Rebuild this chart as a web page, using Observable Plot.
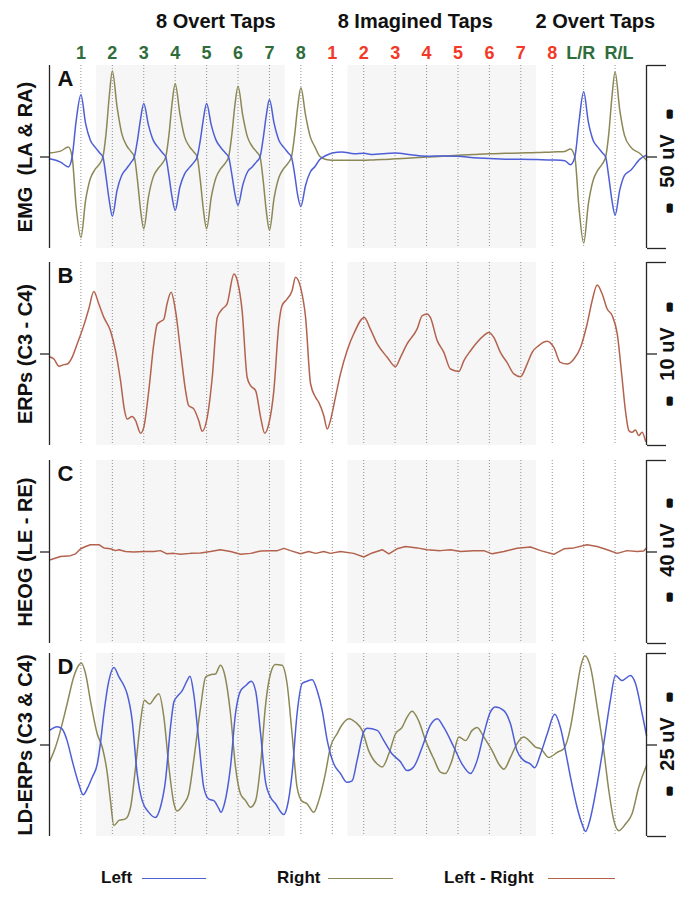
<!DOCTYPE html>
<html><head><meta charset="utf-8">
<script src="https://cdn.jsdelivr.net/npm/d3@7"></script>
<script src="https://cdn.jsdelivr.net/npm/@observablehq/plot@0.6"></script>
<style>
body{margin:0;background:#fff;font-family:"Liberation Sans",Arial,Helvetica,sans-serif;}
#chart{width:693px;height:900px;position:relative;overflow:hidden;}
#chart svg{display:block;}
.legend{position:relative;width:693px;height:57px;font-weight:bold;font-size:17px;color:#111;}
.legend span{position:absolute;top:25px;line-height:20px;white-space:nowrap;}
.legend i{position:absolute;top:35px;height:0;border-top:1.3px solid;}
</style></head><body><div id="chart"></div>
<script>
// ---- taps / categories ----
const tapIndex = [1,2,3,4,5,6,7,8,9,10,11,12,13,14,15,16,17,18];
const tapLabels = ["1","2","3","4","5","6","7","8","1","2","3","4","5","6","7","8","L/R","R/L"];
const tapKinds = ["overt","overt","overt","overt","overt","overt","overt","overt",
  "imagined","imagined","imagined","imagined","imagined","imagined","imagined","imagined","overt","overt"];
const groups = [
  {label: "8 Overt Taps", first: 1, last: 8},
  {label: "8 Imagined Taps", first: 9, last: 16},
  {label: "2 Overt Taps", first: 17, last: 18}
];
const shadedTaps = [{first: 2, last: 7}, {first: 10, last: 15}];

// ---- Panel A: EMG (uV), time in tap units ----
const emgT = [0,0.35,0.6,0.72,0.85,1,1.15,1.3,1.45,1.6,1.7,1.8,1.9,
  2,2.15,2.3,2.45,2.6,2.7,2.8,2.9,
  3,3.15,3.3,3.45,3.6,3.7,3.8,3.9,
  4,4.15,4.3,4.45,4.6,4.7,4.8,4.9,
  5,5.15,5.3,5.45,5.6,5.7,5.8,5.9,
  6,6.15,6.3,6.45,6.6,6.7,6.8,6.9,
  7,7.15,7.3,7.45,7.6,7.7,7.8,7.9,
  8,8.15,8.3,8.45,8.6,8.8,
  9,9.3,9.7,10,10.3,10.6,11,11.5,12,12.5,13,13.5,14,14.5,15,15.5,16,16.4,16.58,16.72,16.85,
  17,17.15,17.3,17.45,17.6,17.7,17.8,17.9,
  18,18.15,18.3,18.5,18.8,19];
const emgLeft = [-0.5,-1.4,-2.7,0,10.0,17.0,9.1,4.6,2.7,1.1,0,-5.5,-11.8,
  -16.2,-9.1,-5.0,-3.2,-1.4,0,4.6,10.5,
  14.6,8.7,4.6,2.7,1.1,0,-5.0,-10.9,
  -14.6,-8.2,-4.6,-2.9,-1.4,0,4.6,10.5,
  14.6,8.7,4.6,2.6,1.1,0,-4.6,-10.0,
  -13.2,-7.7,-4.1,-2.7,-1.2,0,5.0,11.4,
  15.7,9.1,4.6,2.7,1.1,0,-4.6,-10.5,
  -13.5,-7.7,-4.1,-2.6,-0.7,0.4,
  1.1,1.4,0.9,1.0,0.7,0.9,1.1,0.6,0.2,0.3,0.2,-0.2,-0.4,-0.6,-0.6,-0.7,-0.8,-1.0,-2.1,0,9.5,
  17.8,9.5,4.6,2.7,1.1,0,-5.5,-11.8,
  -15.9,-9.0,-5.0,-3.6,-0.5,0.5];
const emgRight = [1.1,1.6,2.7,0,-13.7,-22.0,-11.8,-5.9,-3.4,-1.8,0,6.4,16.4,
  23.5,13.7,6.4,3.2,1.4,0,-6.4,-14.6,
  -19.6,-10.9,-5.5,-3.2,-1.6,0,5.9,14.6,
  20.0,11.8,5.5,2.9,1.3,0,-6.4,-14.6,
  -19.6,-10.9,-5.6,-3.2,-1.6,0,5.9,14.1,
  19.3,11.4,5.5,2.9,1.3,0,-6.4,-14.8,
  -20.0,-11.1,-5.6,-3.2,-1.6,0,5.9,13.8,
  18.9,11.4,5.5,2.7,0.2,-0.7,
  -0.9,-0.9,-0.9,-0.9,-0.8,-0.7,-0.5,-0.3,0,0.2,0.5,0.7,0.9,1.0,1.1,1.2,1.4,1.5,2.2,0,-13.7,
  -23.5,-12.8,-6.4,-3.6,-1.8,0,6.4,16.4,
  23.2,12.8,5.9,2.7,0.9,-0.9];

// ---- Panel B: ERPs C3 - C4 (uV) ----
const erpT = [0,0.14,0.30,0.46,0.56,0.72,0.88,1.09,1.25,1.41,1.57,1.73,1.94,2.10,2.26,2.39,2.47,2.63,2.74,2.90,
  3.00,3.16,3.32,3.43,3.53,3.64,3.74,3.87,4.01,4.17,4.33,4.43,4.59,4.75,4.86,5.02,5.18,5.34,5.50,5.65,
  5.87,5.99,6.13,6.29,6.40,6.56,6.72,6.85,6.98,7.14,7.30,7.40,7.56,7.72,7.83,7.99,8.15,8.31,8.47,8.57,
  8.73,8.84,8.94,9.10,9.26,9.47,9.68,10.02,10.21,10.43,10.75,11.01,11.17,11.38,11.70,11.86,12.02,12.12,12.34,12.55,
  12.76,13.03,13.19,13.40,13.61,13.82,13.98,14.14,14.35,14.56,14.78,14.99,15.20,15.36,15.57,15.84,16.05,16.26,16.47,16.69,
  16.90,17.11,17.27,17.43,17.59,17.75,17.91,18.07,18.22,18.33,18.44,18.54,18.65,18.75,18.86,18.97];
const erpV = [-0.15,-0.27,-0.67,-0.58,-0.55,-0.18,0.55,1.55,2.46,3.41,2.73,2.0,1.27,0.18,-1.46,-3.10,-3.55,-3.42,-3.64,-4.33,
  -4.01,-2.0,0.55,1.64,1.77,1.91,2.73,3.37,2.37,0.18,-2.0,-2.82,-3.0,-3.64,-4.22,-3.46,-1.27,2.0,2.46,2.73,
  4.37,3.92,2.37,-1.27,-1.73,-2.0,-3.46,-4.33,-3.82,-2.0,1.64,2.64,3.0,3.46,4.19,3.64,2.0,-1.64,-2.37,-2.64,
  -3.37,-4.10,-3.64,-2.37,-1.09,0.18,1.09,2.0,1.37,0.55,-0.18,-0.69,-0.18,0.55,1.37,2.09,2.19,2.0,0.73,0.09,
  -0.82,-0.95,-0.36,0.18,0.64,1.0,1.18,0.91,0.09,-0.46,-1.09,-1.24,-0.55,0.09,0.46,0.69,0.36,-0.46,-0.55,-0.27,
  0.36,1.64,2.91,3.77,3.28,2.46,2.09,1.09,-1.27,-3.10,-4.19,-4.28,-4.15,-4.46,-4.28,-4.77];

// ---- Panel C: HEOG LE - RE (uV) ----
const heogT = [0.03,0.35,0.67,0.83,0.99,1.15,1.30,1.57,1.73,1.94,2.10,2.21,2.42,2.68,3.00,3.32,3.53,3.74,3.96,4.17,
  4.49,4.81,5.12,5.44,5.76,6.08,6.40,6.72,7.03,7.25,7.46,7.67,7.99,8.25,8.47,8.73,8.94,9.26,9.68,10.00,
  10.27,10.59,10.80,11.06,11.33,11.70,12.02,12.44,12.76,13.08,13.50,13.82,14.09,14.46,14.88,15.31,15.63,16.05,16.37,16.69,
  17.11,17.43,17.75,18.07,18.38,18.70,18.91,19.0];
const heogV = [-1.7,-1.0,-0.8,-0.4,0.7,1.2,1.6,1.6,0.9,0.7,0.3,0.5,0.1,0,0.1,0.1,0.3,-0.4,-0.3,-0.5,
  -0.3,-0.2,0.1,0.5,0.1,-0.5,-0.3,0.2,0.3,0.3,0.8,0.3,-0.4,0.1,-0.3,0.1,-0.3,0.1,-0.3,-1.1,
  -0.2,0.5,-0.4,0.7,1.2,0.9,0.5,0.3,0.5,0.1,0.3,0.3,-0.4,0.1,0.8,1.1,0.3,-0.5,0.7,0.9,
  1.6,1.2,0.5,-0.3,0.3,0.1,0.2,0.9];

// ---- Panel D: LD-ERPs C3 & C4 (uV) ----
const ldLeftT = [0,0.24,0.40,0.56,0.72,0.93,1.07,1.22,1.36,1.52,1.62,1.73,1.89,2.05,2.21,2.37,2.47,2.63,2.79,2.95,
  3.16,3.37,3.53,3.69,3.85,3.96,4.06,4.22,4.38,4.47,4.59,4.75,4.91,5.07,5.23,5.39,5.46,5.57,5.76,5.92,
  6.08,6.24,6.42,6.56,6.72,6.87,7.03,7.19,7.46,7.56,7.72,7.88,8.04,8.19,8.36,8.52,8.68,8.84,9.05,9.26,
  9.47,9.63,9.79,10.00,10.11,10.43,10.64,10.90,11.17,11.38,11.59,11.86,12.12,12.34,12.55,12.87,13.13,13.40,13.61,13.82,
  14.03,14.19,14.46,14.67,14.88,15.09,15.31,15.44,15.63,15.84,16.08,16.26,16.42,16.58,16.79,16.95,17.06,17.22,17.43,17.64,
  17.85,18.01,18.22,18.49,18.65,18.86,19.0];
const ldLeftV = [2.0,2.5,2.2,0.6,-2.1,-5.3,-6.8,-5.8,-4.4,-2.6,0.2,4.3,8.8,10.6,9.3,8.1,7.0,3.4,-3.9,-7.6,
  -9.2,-9.9,-8.5,-4.9,2.4,5.9,6.6,7.4,8.8,9.4,7.0,0.6,-5.8,-7.4,-7.6,-8.7,-9.2,-8.0,-3.0,4.3,
  7.4,8.1,8.7,7.4,1.5,-4.9,-7.1,-8.0,-9.5,-8.5,-3.9,4.3,8.4,8.7,8.9,7.4,4.7,0.6,-2.6,-3.9,
  -5.1,-4.9,-2.1,1.8,2.3,2.0,0.6,-1.2,-2.3,-3.5,-3.0,-0.3,2.7,3.6,2.4,-0.3,-2.6,-3.9,-2.1,1.5,
  4.5,5.2,4.7,2.9,-0.8,-2.1,-2.6,-3.1,-1.2,1.5,4.2,2.4,-0.8,-4.4,-8.5,-10.8,-11.8,-9.9,-5.3,0.2,
  6.1,9.5,8.8,9.5,8.4,4.3,1.3];
const ldRightT = [0,0.19,0.35,0.56,0.77,0.93,1.01,1.15,1.30,1.52,1.68,1.84,1.94,2.05,2.21,2.42,2.58,2.74,2.90,3.02,
  3.19,3.32,3.48,3.64,3.80,3.96,4.06,4.28,4.43,4.59,4.81,4.97,5.12,5.28,5.44,5.57,5.76,5.92,6.08,6.24,
  6.40,6.56,6.72,6.87,7.03,7.19,7.40,7.56,7.72,7.88,8.04,8.19,8.41,8.57,8.78,8.94,9.16,9.30,9.53,9.74,
  9.95,10.16,10.43,10.59,10.80,11.01,11.22,11.38,11.54,11.75,11.97,12.23,12.44,12.60,12.81,13.03,13.24,13.45,13.61,13.82,
  14.09,14.30,14.46,14.67,14.88,15.09,15.31,15.47,15.63,15.89,16.16,16.37,16.58,16.74,16.90,17.04,17.22,17.43,17.64,17.80,
  17.96,18.12,18.33,18.54,18.75,19.0];
const ldRightV = [-2.3,-0.3,2.0,5.6,9.3,10.9,11.2,9.7,6.1,1.5,-0.3,-3.9,-7.6,-11.0,-10.3,-10.1,-8.5,-3.0,3.3,6.1,
  5.6,6.3,7.0,3.8,-3.0,-8.0,-9.0,-8.0,-6.7,-2.1,5.2,9.3,9.6,9.7,10.9,9.7,4.3,-3.0,-6.7,-7.6,
  -8.5,-7.6,-2.6,5.2,9.7,11.0,10.9,8.4,1.5,-5.8,-7.7,-8.0,-9.2,-7.6,-3.9,-0.3,1.6,2.7,3.6,3.1,
  2.0,-0.8,-2.6,-3.0,-1.2,1.5,2.4,3.8,4.6,3.3,0.6,-1.9,-3.7,-3.9,-2.1,1.1,0.6,2.0,2.4,1.1,
  -0.8,-2.6,-3.3,-1.7,0.2,1.1,0.4,-0.3,-0.5,-1.7,-1.0,-0.5,2.4,6.5,10.6,12.2,10.6,5.2,-0.8,-6.2,
  -10.3,-11.7,-10.8,-9.4,-5.8,-2.8];

// ---- styles ----
const FONT = "Liberation Sans, Arial, Helvetica, sans-serif";
const LEFT = "#4d5ed6", RIGHT = "#8c8856", DIFF = "#b3624d";
const GREEN = "#2f6d3c", RED = "#f23a26", AX = "#262626";
const TMAX = 19;

const zip = (ts, vs) => ts.map((t, i) => ({t, v: vs[i]}));
const taps = tapIndex.map((i, k) => ({i, label: tapLabels[k], kind: tapKinds[k]}));

function panel(cfg) {
  const {half, marginTop, marginBottom, height} = cfg;
  const sdy = cfg.scaleDy || 0;
  const bold = {fontWeight: "bold", fill: "#111"};
  const dash = {frameAnchor: "right", dx: 21, rotate: -90, textAnchor: "middle", fontSize: 22, fontWeight: "bold", fill: "#111", stroke: "#111", strokeWidth: 3.6};
  const marks = [
    Plot.rect(shadedTaps, {x1: d => d.first - 0.5, x2: d => d.last + 0.5, fill: "#f6f6f6"}),
    Plot.ruleX(tapIndex, {stroke: "#8f8f8f", strokeWidth: 1, strokeDasharray: "1,2"}),
    ...cfg.series.map(s => Plot.line(s.data, {x: "t", y: "v", stroke: s.color, strokeWidth: 1.5, curve: s.curve || "monotone-x"})),
    Plot.ruleX([0], {stroke: AX, strokeWidth: 1.3}),
    Plot.ruleX([TMAX], {stroke: AX, strokeWidth: 1.3}),
    Plot.axisY([0], {anchor: "left", tickSize: 9, tickFormat: () => "", label: null, stroke: AX, strokeWidth: 1.3}),
    Plot.axisY([0], {anchor: "right", tickSize: 10, tickFormat: () => "", label: null, stroke: AX, strokeWidth: 1.3}),
    Plot.axisY([-half, half], {anchor: "right", tickSize: 19, tickFormat: () => "", label: null, stroke: AX, strokeWidth: 1.3}),
    Plot.text([cfg.ylabel], {frameAnchor: "left", dx: -24, dy: cfg.ylabelDy || 0, rotate: -90, textAnchor: "middle", lineAnchor: "middle", fontSize: 20, ...bold}),
    Plot.text([cfg.letter], {frameAnchor: "top-left", dx: 8, dy: 5, textAnchor: "start", lineAnchor: "top", fontSize: 22, ...bold}),
    Plot.text([cfg.scale], {frameAnchor: "right", dx: 21, dy: sdy, rotate: -90, textAnchor: "middle", lineAnchor: "middle", fontSize: 20, ...bold}),
    Plot.text(["-"], {...dash, dy: -47 + sdy}),
    Plot.text(["-"], {...dash, dy: 47 + sdy})
  ];
  if (cfg.header) {
    const main = taps.filter(d => d.i <= 16);
    marks.push(
      Plot.text(main, {x: "i", text: "label", fill: d => d.kind === "imagined" ? RED : GREEN,
        frameAnchor: "top", dy: -7, lineAnchor: "bottom", fontSize: 18, fontWeight: "bold"}),
      Plot.text(taps.filter(d => d.i === 17), {x: "i", text: "label", fill: GREEN,
        frameAnchor: "top", dy: -7, dx: -3, lineAnchor: "bottom", fontSize: 18, fontWeight: "bold"}),
      Plot.text(taps.filter(d => d.i === 18), {x: "i", text: "label", fill: GREEN,
        frameAnchor: "top", dy: -7, dx: 4, lineAnchor: "bottom", fontSize: 18, fontWeight: "bold"}),
      ...groups.map((g, k) => Plot.text([g], {x: d => (d.first + d.last) / 2, text: "label",
        frameAnchor: "top", dy: -38, dx: [25, -27, -4][k], lineAnchor: "bottom", fontSize: 20, ...bold}))
    );
  }
  return Plot.plot({
    width: 693, height, marginLeft: 49, marginRight: 47, marginTop, marginBottom,
    x: {domain: [0, TMAX], axis: null},
    y: {domain: [-half, half], axis: null},
    style: {fontFamily: FONT, background: "transparent", overflow: "visible"},
    marks
  });
}

const chart = document.getElementById("chart");
chart.append(panel({
  letter: "A", ylabel: "EMG\u00a0\u00a0(LA & RA)", scale: "50 uV", half: 25, scaleDy: 4,
  marginTop: 65, marginBottom: 7, height: 255, header: true,
  series: [
    {data: zip(emgT, emgRight), color: RIGHT},
    {data: zip(emgT, emgLeft), color: LEFT}
  ]
}));
chart.append(panel({
  letter: "B", ylabel: "ERPs (C3 - C4)", scale: "10 uV", half: 5,
  marginTop: 7, marginBottom: 7, height: 197,
  series: [{data: zip(erpT, erpV), color: DIFF}]
}));
chart.append(panel({
  letter: "C", ylabel: "HEOG (LE - RE)", scale: "40 uV", half: 20, scaleDy: -2,
  marginTop: 8, marginBottom: 6, height: 197,
  series: [{data: zip(heogT, heogV), color: DIFF, curve: "linear"}]
}));
chart.append(panel({
  letter: "D", ylabel: "LD-ERPs (C3 & C4)", scale: "25 uV", half: 12.5, scaleDy: -1,
  marginTop: 4, marginBottom: 7, height: 194,
  series: [
    {data: zip(ldRightT, ldRightV), color: RIGHT},
    {data: zip(ldLeftT, ldLeftV), color: LEFT}
  ]
}));

// legend (below the last panel)
const legendItems = [
  {label: "Left", color: LEFT, textX: 101, lineX: 142, lineW: 64},
  {label: "Right", color: RIGHT, textX: 277, lineX: 328, lineW: 65},
  {label: "Left - Right", color: DIFF, textX: 444, lineX: 548, lineW: 67}
];
const legend = document.createElement("div");
legend.className = "legend";
for (const it of legendItems) {
  const s = document.createElement("span");
  s.textContent = it.label; s.style.left = it.textX + "px";
  const l = document.createElement("i");
  l.style.left = it.lineX + "px"; l.style.width = it.lineW + "px"; l.style.borderColor = it.color;
  legend.append(s, l);
}
chart.append(legend);
</script></body></html>
